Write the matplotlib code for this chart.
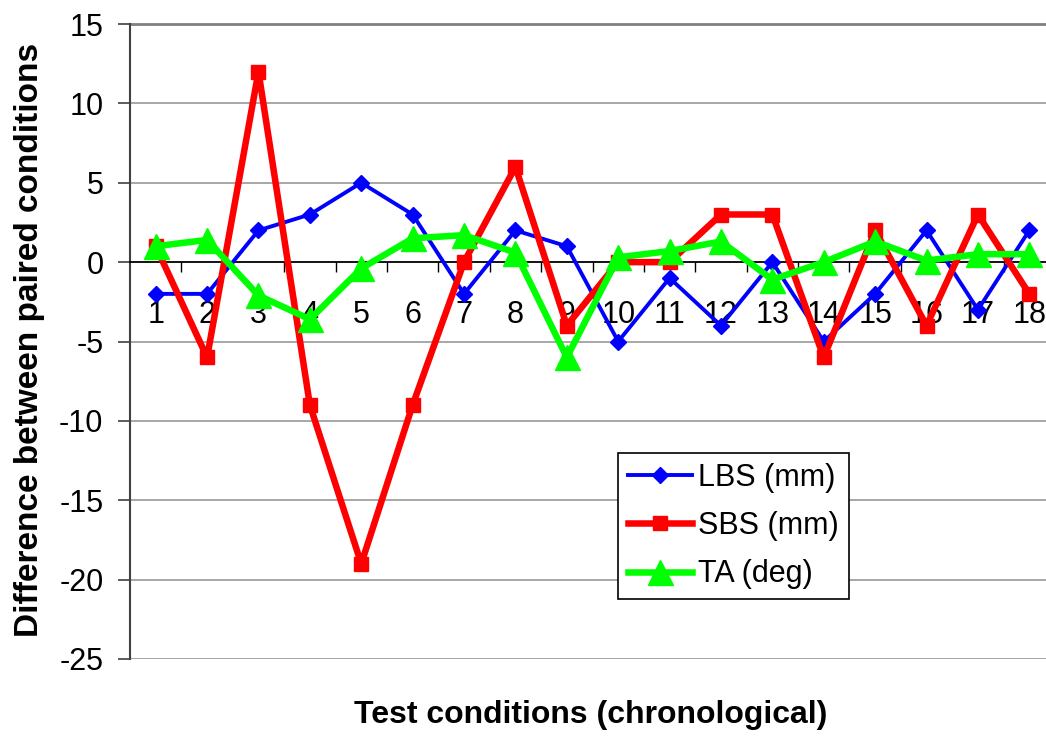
import matplotlib
matplotlib.use("Agg")
import matplotlib.pyplot as plt
import numpy as np

plt.rcParams['font.family'] = ['Liberation Sans', 'DejaVu Sans']

conditions = list(range(1, 19))
lbs = [-2, -2, 2, 3, 5, 3, -2, 2, 1, -5, -1, -4, 0, -5, -2, 2, -3, 2]
sbs = [1, -6, 12, -9, -19, -9, 0, 6, -4, 0, 0, 3, 3, -6, 2, -4, 3, -2]
ta = [1.0, 1.4, -2.1, -3.6, -0.4, 1.5, 1.7, 0.6, -6.0, 0.3, 0.7, 1.3, -1.1, 0.0, 1.3, 0.1, 0.5, 0.5]
yticks = [15, 10, 5, 0, -5, -10, -15, -20, -25]

W, H = 1046, 736
fig = plt.figure(figsize=(W / 100, H / 100), dpi=100)
ax = fig.add_axes([130 / W, 1 - 659 / H, (1055 - 130) / W, (659 - 24) / H])

x = np.array(conditions)
ax.set_xlim(0.5, 18.5)
ax.set_ylim(-25, 15)

# gridlines
for t in yticks:
    if t != 0:
        ax.axhline(t, color='#a0a0a0', lw=1.3, zorder=0)

ax.plot(x, lbs, color='#0000ff', lw=2.8, marker='D', ms=8.5, mfc='#0000ff', mec='#0000ff',
        label='LBS (mm)', zorder=3)
ax.plot(x, sbs, color='#ff0000', lw=4.7, marker='s', ms=9.5, mfc='#ff0000', mec='#ff0000',
        label='SBS (mm)', zorder=4)
ax.plot(x, ta, color='#00ff00', lw=4.7, marker='^', ms=18, mfc='#00ff00', mec='#00ff00',
        label='TA (deg)', zorder=5)

for s in ['right', 'top']:
    ax.spines[s].set_visible(False)
ax.spines['bottom'].set_position(('data', 0))
ax.spines['bottom'].set_color('black')
ax.spines['bottom'].set_linewidth(1.3)
ax.spines['left'].set_color('#404040')
ax.spines['left'].set_linewidth(1.5)

ax.set_yticks(yticks)
ax.set_yticklabels([str(t) for t in yticks])
ax.tick_params(axis='y', direction='out', length=8.6, width=1.2, pad=10.5, labelsize=22, color='#404040')

ax.set_xticks(x)
ax.set_xticklabels([str(c) for c in conditions])
ax.tick_params(axis='x', which='major', length=0, pad=27, labelsize=22)
ax.set_xticks(np.arange(1.5, 18.5, 1.0), minor=True)
ax.tick_params(axis='x', which='minor', direction='out', length=7, width=1.0, color='black')

fig.text(30 / W, 1 - 340 / H, 'Difference between paired conditions', rotation=90,
         ha='center', va='center', fontsize=24, fontweight='bold')
fig.text(591 / W, 1 - 715 / H, 'Test conditions (chronological)',
         ha='center', va='center', fontsize=23, fontweight='bold')

leg = ax.legend(loc='upper left', bbox_to_anchor=((618 - 130) / (1055 - 130), (659 - 453) / (659 - 24)),
                fontsize=22, frameon=True, fancybox=False, edgecolor='black', framealpha=1,
                handlelength=2.1, borderpad=0.32, labelspacing=0.6, handletextpad=0.2,
                borderaxespad=0)
leg.get_frame().set_linewidth(1.2)

# top border of plot area
ax.axhline(15, color='#808080', lw=2, zorder=1, clip_on=False)

fig.savefig('out.png', dpi=100)
